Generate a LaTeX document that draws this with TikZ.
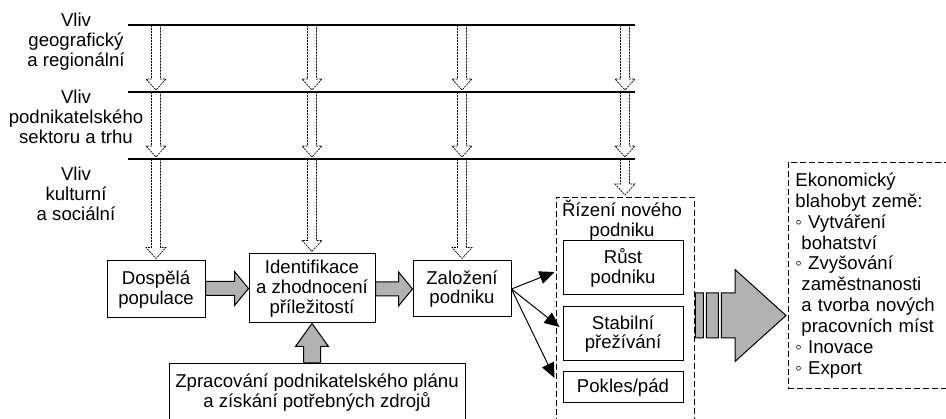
\documentclass[tikz,border=0pt]{standalone}
\usepackage{fontspec}
\setmainfont{Liberation Sans}
\usetikzlibrary{calc,arrows.meta}

\tikzset{
  txt/.style={font=\fontsize{18.6}{19.8}\selectfont, align=center},
  box/.style={txt, draw, line width=1pt, inner sep=2pt},
  dashbox/.style={draw, line width=0.9pt, dash pattern=on 6pt off 3pt},
  hollow/.style={line width=0.7pt, dash pattern=on 2pt off 1pt},
  grayblock/.style={draw, line width=1pt, fill=black!30, line join=miter},
  pointer/.style={line width=1pt, -{Triangle[length=15pt,width=13pt]}},
  level/.style={line width=1.4pt}
}

% dashed hollow arrow going down, #1 start, #2 end
\newcommand{\downarr}[2]{%
  \draw[hollow] let \p1=(#1), \p2=(#2) in
    (\x1-4.5pt,\y1) -- (\x1-4.5pt,\y2+13pt) -- (\x1-10pt,\y2+13pt)
    -- (\x1,\y2+2pt) -- (\x1+10pt,\y2+13pt) -- (\x1+4.5pt,\y2+13pt)
    -- (\x1+4.5pt,\y1);}

% gray block arrow to the right, #1 start, #2 tip
\newcommand{\hblock}[2]{%
  \draw[grayblock] let \p1=(#1), \p2=(#2) in
    (\x1,\y2+7pt) -- (\x2-14pt,\y2+7pt) -- (\x2-14pt,\y2+17pt) -- (\x2,\y2)
    -- (\x2-14pt,\y2-17pt) -- (\x2-14pt,\y2-7pt) -- (\x1,\y2-7pt) -- cycle;}

\begin{document}
\begin{tikzpicture}[x=1pt,y=-1pt]
\useasboundingbox (0,0) rectangle (946,419);
\clip (0,0) rectangle (946,419);

% influences
\coordinate (l1) at (128,25);
\coordinate (l2) at (128,92);
\coordinate (l3) at (128,159);
\draw[level] (l1) -- ++(507,0);
\draw[level] (l2) -- ++(507,0);
\draw[level] (l3) -- ++(507,0);
\node[txt, inner sep=0pt, anchor=north] (geo) at (76,13) {Vliv\\geografický\\a regionální};
\node[txt, inner sep=0pt, anchor=north] (sek) at (76,90) {Vliv\\podnikatelského\\sektoru a trhu};
\node[txt, inner sep=0pt, anchor=north] (kult) at (76,167) {Vliv\\kulturní\\a sociální};

% process
\node[box, minimum width=98pt, minimum height=57pt] (dosp) at (156,289.5) {Dospělá\\populace};
\node[box, minimum width=126pt, minimum height=69pt] (ident) at (312,288.5) {Identifikace\\a zhodnocení\\příležitostí};
\node[box, minimum width=98pt, minimum height=56pt] (zal) at (462,289) {Založení\\podniku};
\node[box, minimum width=296pt, minimum height=58pt, anchor=north] (zprac) at (317,363) {Zpracování podnikatelského plánu\\a získání potřebných zdrojů};

% new firm
\node[dashbox, minimum width=138pt, minimum height=250pt, anchor=north] (rizeni) at (625,197) {};
\node[txt, inner sep=0pt, anchor=north] (rizt) at (622,200) {Řízení nového\\podniku};
\node[box, minimum width=120pt, minimum height=54pt] (rust) at (623,268) {Růst\\podniku};
\node[box, minimum width=120pt, minimum height=54pt] (stab) at (623,334) {Stabilní\\přežívání};
\node[box, minimum width=120pt, minimum height=31pt] (pokles) at (623,387.5) {Pokles/pád};

% economy
\node[dashbox, txt, font=\fontsize{18.6}{20.9}\selectfont, align=left, text width=170pt,
  inner xsep=7pt, minimum height=226pt, anchor=north west] (econ) at (788,162)
  {Ekonomický\\blahobyt země:\\◦ Vytváření\\\hspace*{6pt}bohatství\\◦ Zvyšování\\\hspace*{6pt}zaměstnanosti\\\hspace*{6pt}a tvorba nových\\\hspace*{6pt}pracovních míst\\◦ Inovace\\◦ Export};

% dashed influence arrows
\foreach \col in {dosp,ident,zal,rizeni}{
  \downarr{\col.north |- l1}{\col.north |- l2}
  \downarr{\col.north |- l2}{\col.north |- l3}
  \downarr{\col.north |- l3}{\col.north}
}

% gray arrows
\hblock{dosp.east}{ident.west}
\hblock{ident.east}{zal.west}
\draw[grayblock] let \p1=(ident.south |- zprac.north), \p2=(ident.south) in
  (\x2-8.5pt,\y1) -- (\x2-8.5pt,\y2-23pt) -- (\x2-16.5pt,\y2-23pt) -- (\x2,\y2)
  -- (\x2+16.5pt,\y2-23pt) -- (\x2+8.5pt,\y2-23pt) -- (\x2+8.5pt,\y1) -- cycle;

% outcomes
\draw[pointer] (zal.east) -- ($(rust.west)+(-8,4)$);
\draw[pointer] (zal.east) -- ($(stab.west)+(-3,-7)$);
\draw[pointer] (zal.east) -- ($(pokles.west)+(-8,-9.5)$);

% big arrow
\coordinate (flow) at (0,315.5);
\draw[grayblock] let \p1=(rizeni.east |- flow), \p2=(econ.west |- flow) in
  (\x1+1pt,\y1+22.5pt) rectangle (\x1+9pt,\y1-22.5pt)
  (\x1+12pt,\y1+22.5pt) rectangle (\x1+24pt,\y1-22.5pt)
  (\x1+27pt,\y1+22.5pt) -- (\x2-53pt,\y1+22.5pt) -- (\x2-53pt,\y1+46pt) -- (\x2-2pt,\y1)
  -- (\x2-53pt,\y1-46pt) -- (\x2-53pt,\y1-22.5pt) -- (\x1+27pt,\y1-22.5pt) -- cycle;
\end{tikzpicture}
\end{document}
